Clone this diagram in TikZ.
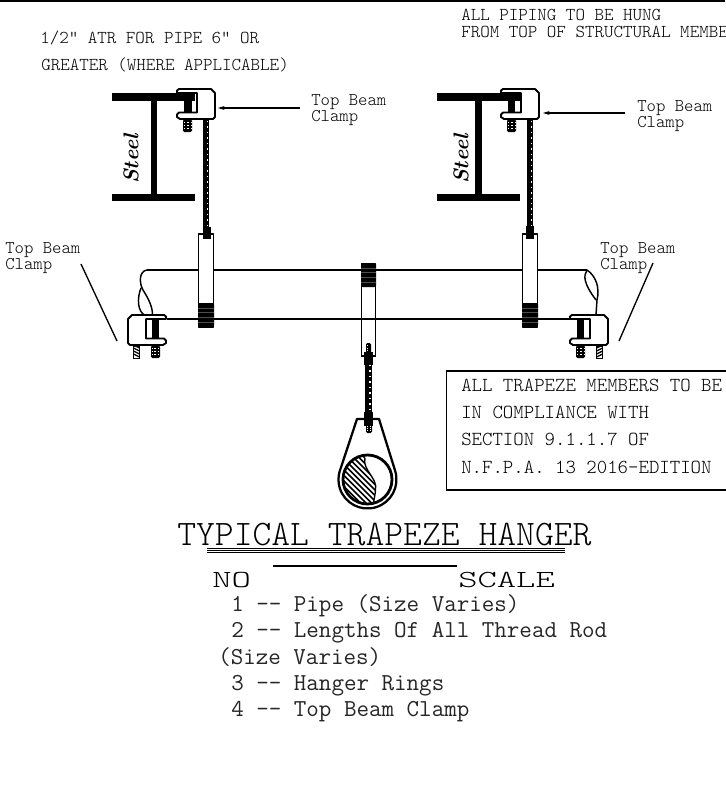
\documentclass[tikz,border=0pt]{standalone}
\usepackage{graphicx}
\usepackage{fontspec}
\usetikzlibrary{arrows.meta}
\setmonofont{Latin Modern Mono Light}
\newfontfamily\darkmono{Latin Modern Mono}
\newcommand{\rodv}[3]{%
  \draw[line width=4.8pt,black] (#1,#2) -- (#1,#3);
  \draw[line width=1pt,white,dash pattern=on 1.1pt off 3pt] (#1+1.5,#2+2) -- (#1+1.5,#3);
}
\newcommand{\threads}[4]{% x1 x2 y1 y2
  \fill[black,rounded corners=1pt] (#1,#3) rectangle (#2,#4);
  \foreach \yy in {1,2,3}{
    \draw[white,line width=0.6pt,dash pattern=on 1pt off 1.6pt] (#1+1,#3+\yy*#4/4-\yy*#3/4) -- (#2-1,#3+\yy*#4/4-\yy*#3/4);
  }
}
\newcommand{\clampbody}{%
  \draw[clampline,fill=white] (501,93) -- (501,90.5) -- (503,89) -- (535,89) -- (539,93) -- (539,117) -- (537,119)
     -- (504,119) -- (501,117) -- (501,114.5) -- (503,112.5) -- (521,112.5) -- (521,93) -- cycle;
  \threads{507}{516}{119.5}{132}
}
\newcommand{\strapblack}[4]{% x1 x2 y1 y2
  \fill[black,rounded corners=1pt] (#1,#3) rectangle (#2,#4);
  \foreach \yy in {1,2,3,4}{
    \draw[black!70,line width=0.25pt] (#1,#3+\yy*#4/5-\yy*#3/5) -- (#2,#3+\yy*#4/5-\yy*#3/5);
  }
}
\tikzset{
  clampline/.style={line width=1.4pt,line join=round},
  pipeline/.style={line width=1.1pt,line join=round},
  flange/.style={fill=black},
  lbl/.style={anchor=base west,inner sep=0pt,font=\ttfamily\fontsize{13.4}{14}\selectfont,text=black},
  notelbl/.style={anchor=base west,inner sep=0pt,font=\ttfamily\fontsize{13.6}{14}\selectfont,text=black},
  boxlbl/.style={anchor=base west,inner sep=0pt,font=\ttfamily\fontsize{14.9}{15}\selectfont,text=black},
  listlbl/.style={anchor=base west,inner sep=0pt,font=\darkmono\fontsize{18.25}{19}\selectfont,text=black!85},
  steel/.style={rotate=90,inner sep=0pt,font=\rmfamily\bfseries\itshape\fontsize{16}{17}\selectfont},
  leader/.style={line width=1pt},
  pointer/.style={line width=0.8pt,-{Stealth[length=5pt,width=3pt]}},
}
\begin{document}
\begin{tikzpicture}[x=0.75pt,y=-0.75pt]
\useasboundingbox (0,0) rectangle (725,785);
\fill[white] (0,0) rectangle (725,785);
\fill[black] (0,0) rectangle (725,2);

% pipe
\draw[pipeline] (147,270) -- (587,270);
\draw[pipeline] (147,270) .. controls (139,271) and (139,283) .. (143,290) .. controls (148,298) and (153,307) .. (152.5,316);
\draw[pipeline] (141,288) .. controls (137,298) and (137,312) .. (146,316);
\draw[pipeline] (587,270) .. controls (596,276) and (600,288) .. (597,300) -- (596,315);
\draw[pipeline] (587,270) .. controls (583,276) and (584,284) .. (596,300);

% left hanger strap
\draw[clampline,fill=white] (198.5,234) rectangle (213.5,327);
\strapblack{198}{214}{303}{327}
\rodv{206}{119}{232}
\fill[black] (203,227) rectangle (211,239);
% right hanger strap
\draw[clampline,fill=white] (522.5,234) rectangle (537.5,327);
\strapblack{522}{538}{303}{327}
\rodv{530}{119}{232}
\fill[black] (526,226) rectangle (534,239);
% middle strap
\draw[clampline,fill=white] (361.5,264) rectangle (375.5,356);
\strapblack{361}{376}{263}{287}

\draw[pipeline] (167,319) -- (570,319);

% middle rod
\rodv{368.5}{352}{414}
\fill[black] (363.5,352) rectangle (373,365);
\threads{366}{371}{343}{353}
\draw[line width=1.4pt] (361,356) -- (376,356);
\threads{366}{372}{424}{433}

% ring
\draw[line width=1.7pt,line join=round] (339.8,471) -- (357,419) -- (379,419) -- (395.2,471) arc[start angle=-17,end angle=197,radius=29];
\fill[black] (363.5,412) rectangle (373,426);

% pipe section
\begin{scope}
  \clip (367.5,479.5) circle[radius=24.5];
  \clip (365,450) -- (365,458) .. controls (362,470) and (378,478) .. (375.5,490) .. controls (375,496) and (374,500) .. (373,510) -- (330,510) -- (330,450) -- cycle;
  \foreach \i in {280,285.5,...,370}{
    \draw[line width=1.1pt] (\i,450) -- (\i+62,512);
  }
\end{scope}
\draw[line width=1pt] (365,458) .. controls (362,470) and (378,478) .. (375.5,490) .. controls (375,496) and (374,500) .. (373,504);
\draw[line width=2.1pt] (367.5,479.5) circle[radius=24.5];

% left top clamp + beam
\begin{scope}[shift={(-324,0)}]
  \clampbody
\end{scope}
\fill[flange] (112,93) rectangle (195,100.7);
\fill[flange] (151,100) rectangle (157,194);
\fill[flange] (112,194) rectangle (195,200.7);
\fill[black] (184,97) rectangle (192,113);

% right top clamp + beam
\clampbody
\fill[flange] (437,93) rectangle (520,100.7);
\fill[flange] (475,100) rectangle (482,194);
\fill[flange] (437,194) rectangle (520,200.7);
\fill[black] (508,97) rectangle (515,113);

% lower right clamp
\begin{scope}[shift={(69,226)}]
  \clampbody
  \fill[black] (508,93) rectangle (515,113);
  \draw[line width=0.6pt,fill=white] (527.5,120) rectangle (533.5,132);
  \foreach \yy in {122,125,128,131}{\draw[line width=1pt] (527.5,\yy) -- (533.5,\yy-3);}
\end{scope}
% lower left clamp
\begin{scope}[shift={(667,226)},xscale=-1]
  \clampbody
  \fill[black] (508,93) rectangle (515,113);
  \draw[line width=0.6pt,fill=white] (527.5,120) rectangle (533.5,132);
  \foreach \yy in {122,125,128,131}{\draw[line width=1pt] (527.5,\yy) -- (533.5,\yy-3);}
\end{scope}

% leaders
\coordinate (la1) at (300,108);
\coordinate (la2) at (218,108);
\coordinate (ra1) at (625,113);
\coordinate (ra2) at (543,113);
\coordinate (ll1) at (81,264);
\coordinate (ll2) at (117,341);
\coordinate (rl1) at (653,263);
\coordinate (rl2) at (619,341);
\draw[pointer] (la1) -- (la2);
\draw[pointer] (ra1) -- (ra2);
\draw[leader] (ll1) -- (ll2);
\draw[leader] (rl1) -- (rl2);

% Steel
\node[steel] (steelL) at (131,159) {Steel};
\node[steel] (steelR) at (461,159) {Steel};

% labels
\node[notelbl] (n1) at (40,43) {1/2" ATR FOR PIPE 6" OR};
\node[notelbl] (n2) at (41,70) {GREATER (WHERE APPLICABLE)};
\node[notelbl] (t1) at (461,21) {ALL PIPING TO BE HUNG};
\node[notelbl] (t2) at (461,37) {FROM TOP OF STRUCTURAL MEMBER};
\node[lbl] (a1) at (311,105) {Top Beam};
\node[lbl] (a2) at (311,121) {Clamp};
\node[lbl] (b1) at (637,111) {Top Beam};
\node[lbl] (b2) at (637,127) {Clamp};
\node[lbl] (c1) at (5,253) {Top Beam};
\node[lbl] (c2) at (5,269) {Clamp};
\node[lbl] (d1) at (600,253) {Top Beam};
\node[lbl] (d2) at (600,269) {Clamp};

% box
\draw[line width=1.3pt] (740,371) -- (446.5,371) -- (446.5,490) -- (740,490);
\node[boxlbl] (e1) at (461,391) {ALL TRAPEZE MEMBERS TO BE};
\node[boxlbl] (e2) at (461,418) {IN COMPLIANCE WITH};
\node[boxlbl] (e3) at (461,445) {SECTION 9.1.1.7 OF};
\node[boxlbl] (e4) at (461,473) {N.F.P.A. 13 2016-EDITION};

% title
\node[anchor=base west,inner sep=0pt,font=\ttfamily\fontsize{26.9}{27}\selectfont] (title) at (177,545) {TYPICAL TRAPEZE HANGER};
\draw[line width=0.6pt] (207,548) -- (565,548);
\draw[line width=0.6pt] (207,550.3) -- (565,550.3);
\draw[line width=0.6pt] (207,552.6) -- (565,552.6);
\node[anchor=base west,inner sep=0pt,font=\ttfamily\fontsize{18.4}{19}\selectfont] (no) at (212,587) {\scalebox{1.5}[1]{NO}};
\node[anchor=base west,inner sep=0pt,font=\ttfamily\fontsize{18.4}{19}\selectfont] (scale) at (458,587) {\scalebox{1.5}[1]{SCALE}};
\draw[line width=1.2pt] (273,566) -- (457,566);

% list
\node[listlbl] (l1) at (231,611) {1 -- Pipe (Size Varies)};
\node[listlbl] (l2) at (231,637) {2 -- Lengths Of All Thread Rod};
\node[listlbl] (l3) at (218,664) {(Size Varies)};
\node[listlbl] (l4) at (231,690) {3 -- Hanger Rings};
\node[listlbl] (l5) at (231,716) {4 -- Top Beam Clamp};
\end{tikzpicture}
\end{document}
